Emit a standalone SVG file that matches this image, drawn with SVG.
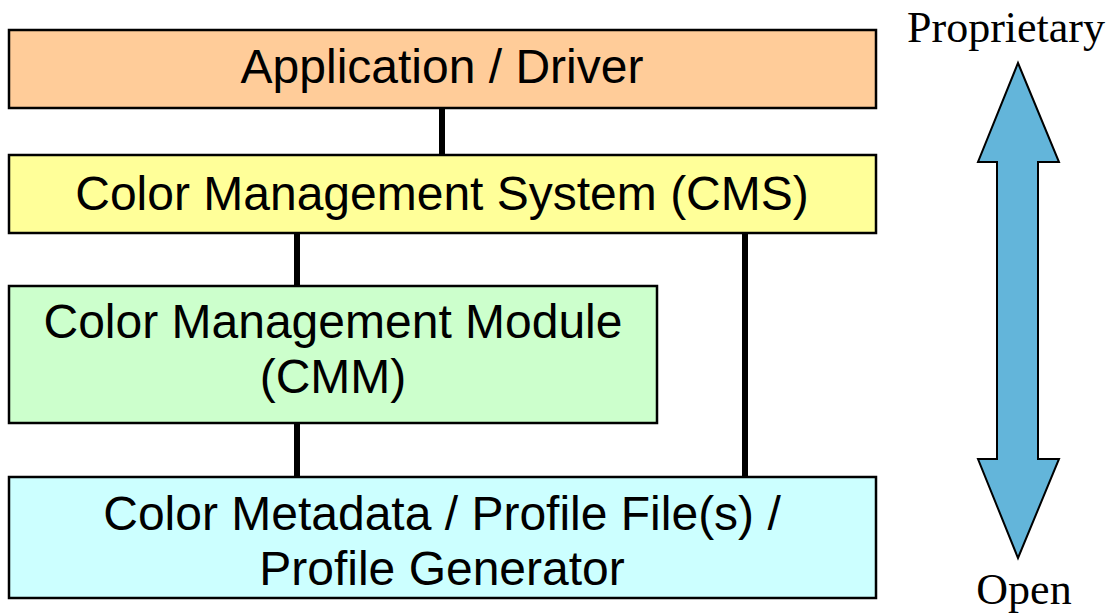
<svg xmlns="http://www.w3.org/2000/svg" width="1113" height="615" viewBox="0 0 1113 615">
<style>
.box{stroke:#000;stroke-width:2.5}
.t{font-family:"Liberation Sans",Arial,sans-serif;font-size:48px;fill:#000;text-anchor:middle}
.s{font-family:"Liberation Serif","Times New Roman",serif;font-size:44px;fill:#000;text-anchor:middle}
.ln{stroke:#000;stroke-width:6}
</style>
<rect width="1113" height="615" fill="#fff"/>
<g id="connectors">
<line class="ln" x1="442" y1="108" x2="442" y2="155"/>
<line class="ln" x1="297" y1="233" x2="297" y2="286"/>
<line class="ln" x1="297" y1="423" x2="297" y2="477"/>
<line class="ln" x1="745" y1="233" x2="745" y2="477"/>
</g>
<g id="app">
<rect class="box" x="9" y="30" width="867" height="78" fill="#FFCC99"/>
<text class="t" x="442" y="83">Application / Driver</text>
</g>
<g id="cms">
<rect class="box" x="9" y="155" width="867" height="78" fill="#FFFF99"/>
<text class="t" x="442" y="210">Color Management System (CMS)</text>
</g>
<g id="cmm">
<rect class="box" x="9" y="286" width="648" height="137" fill="#CCFFCC"/>
<text class="t" x="333" y="338">Color Management Module</text>
<text class="t" x="333" y="393">(CMM)</text>
</g>
<g id="profile">
<rect class="box" x="9" y="477" width="867" height="121" fill="#CCFFFF"/>
<text class="t" x="442" y="530">Color Metadata / Profile File(s) /</text>
<text class="t" x="442" y="585">Profile Generator</text>
</g>
<g id="scale">
<polygon points="1018,63 1059,162 1038,162 1038,459 1059,459 1018,558 978,459 997,459 997,162 978,162" fill="#63B5DA" stroke="#000" stroke-width="2"/>
<text class="s" x="1006" y="42">Proprietary</text>
<text class="s" x="1024" y="604">Open</text>
</g>
</svg>
